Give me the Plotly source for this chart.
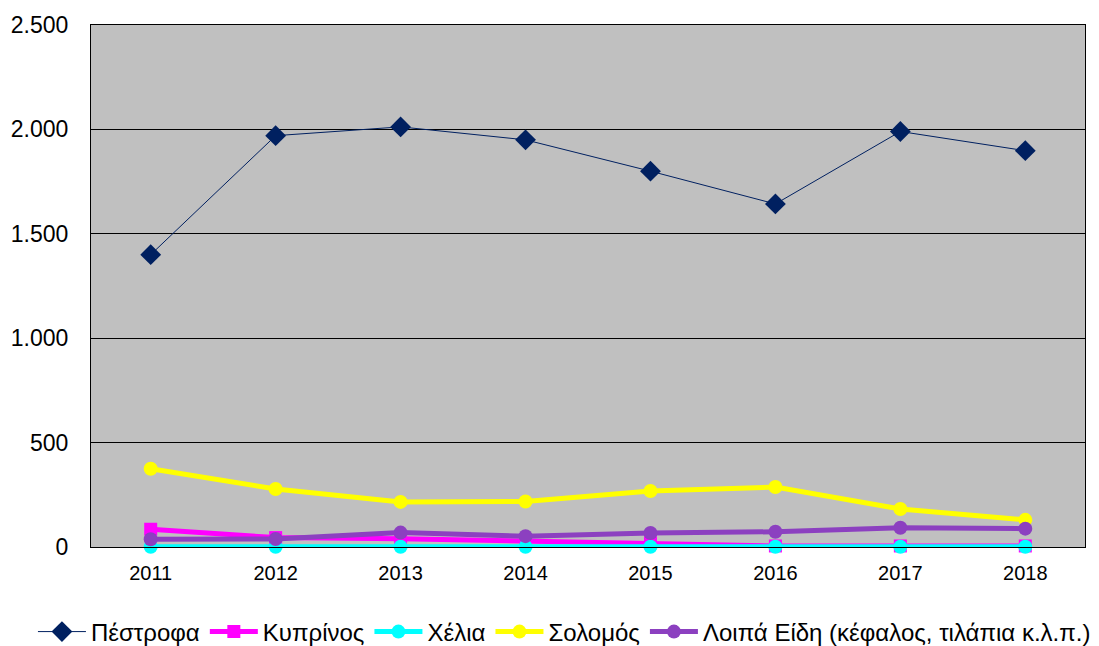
import plotly.graph_objects as go

years = ["2011", "2012", "2013", "2014", "2015", "2016", "2017", "2018"]
pestrofa = [1400, 1970, 2012, 1950, 1800, 1643, 1990, 1898]
kyprinos = [85, 45, 40, 30, 20, 5, 5, 5]
chelia = [1, 1, 1, 1, 1, 1, 1, 1]
solomos = [375, 278, 216, 218, 268, 287, 182, 130]
loipa = [37, 38, 69, 52, 67, 73, 92, 88]

series = [
    ("Πέστροφα", pestrofa, "#002060", 1, "diamond", 16),
    ("Κυπρίνος", kyprinos, "#FF00FF", 5, "square", 13),
    ("Χέλια", chelia, "#00FFFF", 5, "circle", 14),
    ("Σολομός", solomos, "#FFFF00", 5, "circle", 14),
    ("Λοιπά Είδη (κέφαλος, τιλάπια κ.λ.π.)", loipa, "#8C40C0", 5, "circle", 14),
]

fig = go.Figure()
for name, vals, color, lw, sym, ms in series:
    fig.add_trace(go.Scatter(
        x=years, y=vals, name=name, mode="lines+markers",
        line=dict(color=color, width=lw),
        marker=dict(symbol=sym, size=ms, color=color),
        cliponaxis=False,
    ))

fig.update_layout(
    width=1099, height=646,
    margin=dict(l=91, r=14, t=25, b=99, autoexpand=False),
    paper_bgcolor="white",
    plot_bgcolor="#C0C0C0",
    separators=",.",
    font=dict(family="Liberation Sans, Arial, sans-serif", size=20, color="black"),
    showlegend=True,
    legend=dict(orientation="h", x=-0.0584, xanchor="left", y=-0.1628, yanchor="middle",
                font=dict(size=24), itemwidth=48, tracegroupgap=0,
                bgcolor="rgba(0,0,0,0)"),
    xaxis=dict(type="category", showgrid=False, showline=True, linecolor="black",
               linewidth=1, mirror=True, ticks="", tickfont=dict(size=20),
               ticklabelstandoff=8),
    yaxis=dict(range=[0, 2500], dtick=500, tickformat=",d", showgrid=True,
               gridcolor="black", gridwidth=1, showline=True, linecolor="black",
               linewidth=1, mirror=True, zeroline=False, ticks="",
               tickfont=dict(size=23), ticklabelstandoff=17),
)

fig.write_html("out.html", config={"displayModeBar": False},
               post_script="document.body.style.margin='0';")
